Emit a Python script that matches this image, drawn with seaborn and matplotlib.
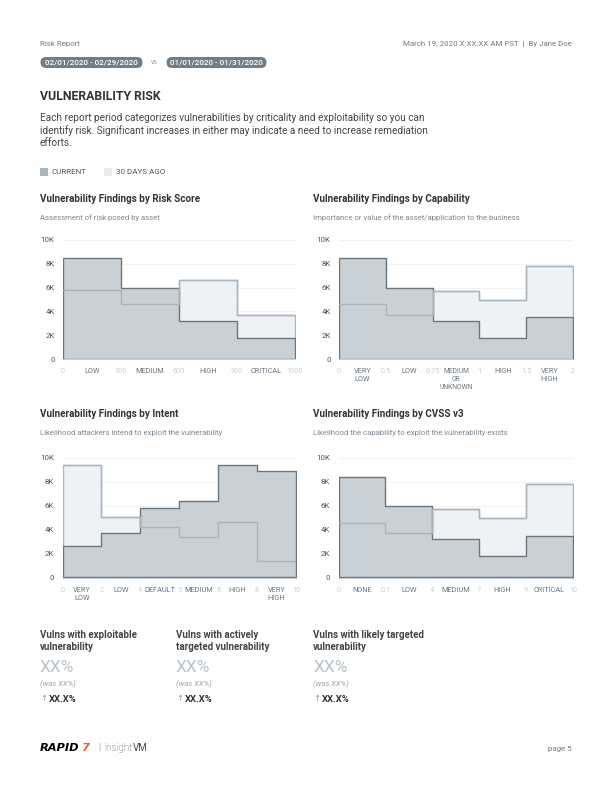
"""
Vulnerability risk report page:
- header, date pills and intro text
- four step-histograms (current vs 30 days ago)
- three summary stats and footer
"""

import numpy as np
import pandas as pd
import seaborn as sns
import matplotlib.pyplot as plt
from matplotlib.patches import FancyBboxPatch, Rectangle
from matplotlib.ticker import FuncFormatter

# Data
risk_edges = ['0', '300', '600', '900', '1000']
risk_cats = ['LOW', 'MEDIUM', 'HIGH', 'CRITICAL']
risk_current = [8450, 6000, 3200, 1800]
risk_past = [5800, 4600, 6600, 3700]

cap_edges = ['0', '0.5', '0.75', '1', '1.5', '2']
cap_cats = ['VERY\nLOW', 'LOW', 'MEDIUM\nOR\nUNKNOWN', 'HIGH', 'VERY\nHIGH']
cap_current = [8450, 6000, 3200, 1800, 3500]
cap_past = [4600, 3700, 5700, 5000, 7850]

intent_edges = ['0', '2', '4', '5', '6', '8', '10']
intent_cats = ['VERY\nLOW', 'LOW', 'DEFAULT', 'MEDIUM', 'HIGH', 'VERY\nHIGH']
intent_current = [2650, 3700, 5850, 6400, 9400, 8900]
intent_past = [9400, 5100, 4250, 3350, 4650, 1400]

cvss_edges = ['0', '0.1', '4', '7', '9', '10']
cvss_cats = ['NONE', 'LOW', 'MEDIUM', 'HIGH', 'CRITICAL']
cvss_current = [8450, 6000, 3200, 1800, 3450]
cvss_past = [4600, 3700, 5700, 4950, 7850]

stat_titles = ['Vulns with exploitable\nvulnerability',
               'Vulns with actively\ntargeted vulnerability',
               'Vulns with likely targeted\nvulnerability']

# Colours
CUR_FILL = '#c9d1d7'
CUR_LINE = '#6d767e'
PAST_FILL = '#eef2f5'
PAST_LINE = '#a9b4bc'
DARK = '#3a3a3a'
GREY = '#7a7a7a'

sns.set_style('white')
plt.rcParams['font.family'] = ['Roboto', 'DejaVu Sans']

W, H = 612, 792
fig = plt.figure(figsize=(W / 100, H / 100), dpi=100)

# overlay in pixel coordinates for page text and shapes
page = fig.add_axes([0, 0, 1, 1])
page.set_xlim(0, W)
page.set_ylim(H, 0)
page.axis('off')


def txt(x, y, s, size=6, color=DARK, **kw):
    kw.setdefault('va', 'center')
    page.text(x, y, s, fontsize=size, color=color, **kw)


def step_chart(rect, edges, cats, current, past):
    left, top, right, bottom = rect
    ax = fig.add_axes([left / W, 1 - bottom / H, (right - left) / W, (bottom - top) / H])
    n = len(cats)
    df = pd.DataFrame({'pos': np.arange(n) + 0.5, 'current': current, 'past': past})
    bins = list(range(n + 1))
    sns.histplot(df, x='pos', weights='past', bins=bins, element='step', fill=True,
                 color=PAST_FILL, edgecolor=PAST_LINE, linewidth=1, alpha=1, ax=ax)
    sns.histplot(df, x='pos', weights='current', bins=bins, element='step', fill=True,
                 color=CUR_FILL, edgecolor=CUR_LINE, linewidth=1, alpha=1, ax=ax)
    sns.histplot(df, x='pos', weights='past', bins=bins, element='step', fill=False,
                 color=PAST_LINE, linewidth=1, ax=ax)
    ax.set_xlim(0, n)
    ax.set_ylim(0, 10000)
    ax.set_xlabel('')
    ax.set_ylabel('')
    ax.set_yticks(np.arange(0, 10001, 2000))
    ax.yaxis.set_major_formatter(FuncFormatter(lambda v, p: '0' if v == 0 else f'{int(v / 1000)}K'))
    ax.set_xticks(np.arange(n + 1), edges)
    ax.set_xticks(np.arange(n) + 0.5, cats, minor=True)
    ax.tick_params(axis='x', which='both', length=0, pad=6.5, labelsize=5.3)
    ax.tick_params(axis='x', which='major', labelcolor='#c9cfd4')
    ax.tick_params(axis='x', which='minor', labelcolor='#6b757d')
    ax.tick_params(axis='y', length=3, color='#e6e6e6', pad=3, labelsize=5.7, labelcolor='#555555')
    for lab in ax.get_xticklabels(minor=True):
        lab.set_verticalalignment('top')
        if lab.get_text().count('\n') > 1:
            lab.set_fontsize(4.9)
    ax.grid(axis='y', color='#f2f2f2', linewidth=0.8)
    ax.set_axisbelow(True)
    sns.despine(ax=ax, left=True)
    ax.spines['bottom'].set_color('#c8ced3')
    ax.spines['bottom'].set_zorder(5)
    return ax


# Header
txt(40, 44, 'Risk Report', size=5.7, color=GREY)
txt(572, 44, 'March 19, 2020 X:XX:XX AM PST  |  By Jane Doe', size=5.7, color=GREY, ha='right')
for x0, x1, label in [(35, 148, '02/01/2020 - 02/29/2020'), (161, 272, '01/01/2020 - 01/31/2020')]:
    page.add_patch(FancyBboxPatch((x0 + 5.5, 57), x1 - x0 - 11, 11,
                                  boxstyle='round,pad=0,rounding_size=5.5',
                                  fc='#737d86', ec='none'))
    txt((x0 + x1) / 2, 62.8, label, size=5.9, color='white', ha='center', weight='medium')
txt(154.5, 62.8, 'vs', size=5, color='#9aa3aa', ha='center')

txt(40, 96, 'VULNERABILITY RISK', size=8.8, color='#333333', weight='bold')
para = ['Each report period categorizes vulnerabilities by criticality and exploitability so you can',
        'identify risk. Significant increases in either may indicate a need to increase remediation',
        'efforts.']
for i, line in enumerate(para):
    txt(40, 118 + i * 12.5, line, size=7.2, color='#444444')

# Legend
page.add_patch(Rectangle((40, 168), 7.5, 7.5, fc='#a9b4bc', ec='none'))
txt(52, 172, 'CURRENT', size=5.8, color='#555555')
page.add_patch(Rectangle((104, 168), 7.5, 7.5, fc='#e7ebee', ec='none'))
txt(116, 172, '30 DAYS AGO', size=5.8, color='#555555')

# Chart titles
charts = [
    (40, 199, 'Vulnerability Findings by Risk Score', 'Assessment of risk posed by asset'),
    (313, 199, 'Vulnerability Findings by Capability',
     'Importance or value of the asset/application to the business'),
    (40, 414, 'Vulnerability Findings by Intent', 'Likelihood attackers intend to exploit the vulnerability'),
    (313, 414, 'Vulnerability Findings by CVSS v3',
     'Likelihood the capability to exploit the vulnerability exists'),
]
for x, y, title, sub in charts:
    txt(x, y, title, size=7.1, color='#333333', weight='bold')
    txt(x, y + 18.5, sub, size=5.6, color='#7d8790')

step_chart((63, 240, 295, 359), risk_edges, risk_cats, risk_current, risk_past)
step_chart((339, 240, 573, 359), cap_edges, cap_cats, cap_current, cap_past)
step_chart((62.5, 458, 296, 577.5), intent_edges, intent_cats, intent_current, intent_past)
step_chart((338.5, 458, 573, 577.5), cvss_edges, cvss_cats, cvss_current, cvss_past)

# Summary stats
for x, title in zip([40, 176, 313], stat_titles):
    txt(x, 641, title, size=7, color='#444444', weight='bold', linespacing=1.25)
    txt(x, 667, 'XX%', size=12.5, color='#b9c3ca')
    txt(x, 684, '(was XX%)', size=5.6, color='#9ba4aa', style='italic')
    txt(x, 699, '\u2191', size=6, color='#555555', weight='light')
    txt(x + 8.5, 699, 'XX.X%', size=6.8, color='#333333', weight='bold')

# Footer
txt(40, 748, 'RAPID', size=8.2, color='black', weight='bold', style='italic',
    family=['DejaVu Sans'])
txt(81, 748, '7', size=8.2, color='#e8602a', weight='bold', style='italic',
    family=['DejaVu Sans'])
txt(98, 747.5, '|', size=6.5, color='#999999')
txt(133, 748, 'insight', size=7, color='#444444', weight='light', ha='right')
txt(133, 748, 'VM', size=7, color='#444444')
txt(572, 749, 'page 5', size=5.7, color=GREY, ha='right')

plt.savefig('out.png', dpi=100)
